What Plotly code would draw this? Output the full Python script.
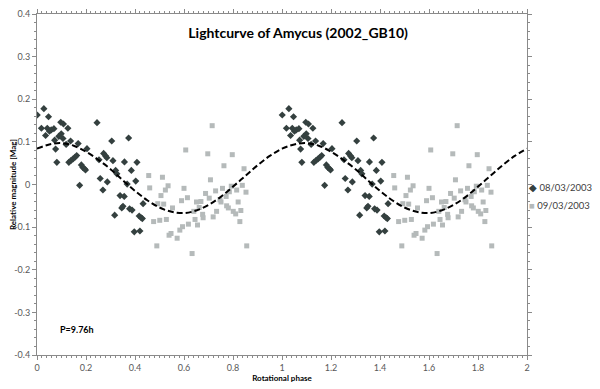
import plotly.graph_objects as go

# 08/03/2003 session (one rotation, phase 0..1)
phase_0803 = [0.001, 0.028, 0.047, 0.018, 0.035, 0.042, 0.051, 0.058, 0.069, 0.072,
              0.076, 0.081, 0.097, 0.108, 0.089, 0.099, 0.106, 0.119, 0.126, 0.137,
              0.168, 0.130, 0.138, 0.147, 0.155, 0.162, 0.174, 0.181, 0.187, 0.194,
              0.198, 0.204, 0.245, 0.253, 0.258, 0.269, 0.272, 0.280, 0.285, 0.287,
              0.305, 0.310, 0.321, 0.326, 0.357, 0.374, 0.385, 0.368, 0.339, 0.356,
              0.403, 0.408, 0.433, 0.317, 0.346, 0.351, 0.378, 0.388, 0.417, 0.425,
              0.430, 0.397, 0.420]
mag_0803 = [0.163, 0.178, 0.159, 0.132, 0.115, 0.132, 0.125, 0.128, 0.131, 0.104,
            0.083, 0.052, 0.146, 0.142, 0.113, 0.119, 0.108, 0.094, 0.132, 0.102,
            0.096, 0.052, 0.056, 0.060, 0.064, 0.068, -0.002, 0.046, 0.040, 0.037,
            0.034, 0.084, 0.145, 0.058, 0.014, -0.013, 0.073, 0.067, 0.063, 0.006,
            0.102, 0.056, 0.033, 0.025, 0.053, 0.109, 0.033, 0.001, -0.026, -0.028,
            0.008, 0.052, -0.045, -0.072, -0.055, -0.051, -0.057, -0.060, -0.074, -0.078,
            -0.080, -0.111, -0.109]

# 09/03/2003 session
phase_0903 = [0.456, 0.460, 0.512, 0.506, 0.524, 0.535, 0.607, 0.600, 0.590, 0.614,
              0.715, 0.697, 0.797, 0.763, 0.708, 0.845, 0.651, 0.669, 0.688, 0.703,
              0.729, 0.757, 0.772, 0.785, 0.793, 0.815, 0.838, 0.853, 0.751, 0.821,
              0.493, 0.517, 0.476, 0.501, 0.528, 0.553, 0.489, 0.539, 0.547, 0.572,
              0.583, 0.594, 0.618, 0.633, 0.640, 0.645, 0.655, 0.662, 0.676, 0.678,
              0.719, 0.733, 0.747, 0.774, 0.781, 0.801, 0.811, 0.832, 0.828, 0.856]
mag_0903 = [0.021, -0.008, 0.017, -0.026, -0.013, -0.003, 0.081, -0.009, -0.038, -0.031,
            0.138, 0.072, 0.070, 0.044, 0.011, 0.037, -0.041, -0.040, -0.021, -0.032,
            -0.015, -0.009, -0.028, -0.017, -0.004, -0.013, -0.002, -0.018, -0.041, -0.041,
            -0.045, -0.046, -0.087, -0.084, -0.082, -0.055, -0.144, -0.119, -0.115, -0.126,
            -0.107, -0.099, -0.093, -0.162, -0.063, -0.082, -0.095, -0.054, -0.070, -0.078,
            -0.076, -0.063, -0.036, -0.050, -0.055, -0.063, -0.069, -0.061, -0.087, -0.144]

# fitted lightcurve
fit_phase = [0.00, 0.05, 0.10, 0.15, 0.20, 0.25, 0.30, 0.35, 0.40, 0.45,
             0.50, 0.55, 0.60, 0.65, 0.70, 0.75, 0.80, 0.85, 0.90, 0.95,
             1.00, 1.05, 1.10, 1.15, 1.20, 1.25, 1.30, 1.35, 1.40, 1.45,
             1.50, 1.55, 1.60, 1.65, 1.70, 1.75, 1.80, 1.85, 1.90, 1.95, 2.00]
fit_mag = [0.084, 0.094, 0.097, 0.091, 0.077, 0.058, 0.036, 0.010, -0.015, -0.037,
           -0.054, -0.064, -0.067, -0.061, -0.048, -0.029, -0.005, 0.020, 0.045, 0.067,
           0.084, 0.094, 0.097, 0.091, 0.077, 0.058, 0.036, 0.010, -0.015, -0.037,
           -0.054, -0.064, -0.067, -0.061, -0.048, -0.029, -0.005, 0.020, 0.045, 0.067,
           0.084]

x_ticks = [0, 0.2, 0.4, 0.6, 0.8, 1, 1.2, 1.4, 1.6, 1.8, 2]
x_labels = ["0", "0.2", "0.4", "0.6", "0.8", "1", "1.2", "1.4", "1.6", "1.8", "2"]
y_ticks = [-0.4, -0.3, -0.2, -0.1, 0, 0.1, 0.2, 0.3, 0.4]
y_labels = ["-0.4", "-0.3", "-0.2", "-0.1", "0", "0.1", "0.2", "0.3", "0.4"]

DARK = "#34403f"
LIGHT = "#b5baba"
AXIS = "#8a8a8a"
FONT = "Lato"

fig = go.Figure()

# plotted over two rotations
fig.add_trace(go.Scatter(
    x=phase_0803 + [p + 1 for p in phase_0803], y=mag_0803 + mag_0803,
    mode="markers", name="08/03/2003",
    marker=dict(symbol="diamond", size=5.5, color=DARK),
))
fig.add_trace(go.Scatter(
    x=phase_0903 + [p + 1 for p in phase_0903], y=mag_0903 + mag_0903,
    mode="markers", name="09/03/2003",
    marker=dict(symbol="square", size=5, color=LIGHT),
))
fig.add_trace(go.Scatter(
    x=fit_phase, y=fit_mag, mode="lines", line_shape="spline",
    line=dict(color="black", width=2, dash="6px,3px"), showlegend=False,
))

axis_common = dict(
    showgrid=False, zeroline=False, showline=True, linecolor=AXIS, linewidth=1,
    mirror="allticks", ticks="outside", ticklen=4, tickcolor=AXIS, automargin=False,
    ticklabeloverflow="allow",
    tickfont=dict(family=FONT, size=9, color="#595959"),
)

# page body adds an 8px offset, so the figure is a little smaller than the window
fig.update_layout(
    width=592, height=381,
    margin=dict(l=29, r=73, t=6, b=34),
    paper_bgcolor="white", plot_bgcolor="white",
    showlegend=False,
    title=dict(text="<b>Lightcurve of Amycus (2002_GB10)</b>",
               x=0.49, xref="container", xanchor="center",
               y=0.934, yref="container", yanchor="middle",
               font=dict(family=FONT, size=14, color="black")),
    xaxis=dict(axis_common, range=[0, 2], tickvals=x_ticks, ticktext=x_labels,
               minor=dict(dtick=0.02, ticks="outside", ticklen=2, tickcolor=AXIS),
               title=dict(text="<b>Rotational phase</b>", standoff=3,
                          font=dict(family=FONT, size=8, color="black"))),
    yaxis=dict(axis_common, range=[-0.4, 0.4], tickvals=y_ticks, ticktext=y_labels,
               minor=dict(dtick=0.02, ticks="outside", ticklen=2, tickcolor=AXIS),
               title=dict(text="<b>Relative magnitude [Mag]</b>", standoff=4,
                          font=dict(family=FONT, size=8, color="black"))),
)

fig.add_annotation(x=0.084, y=-0.34, xref="x", yref="y", xanchor="left",
                   text="<b>P=9.76h</b>", showarrow=False,
                   font=dict(family=FONT, size=9, color="black"))

# legend drawn as text next to the plot
fig.add_annotation(x=1.0, y=0.49, xref="paper", yref="paper", xanchor="left",
                   text="<span style='color:%s'>◆</span> 08/03/2003" % DARK,
                   showarrow=False, font=dict(family=FONT, size=9.5, color="#404040"))
fig.add_annotation(x=1.0, y=0.437, xref="paper", yref="paper", xanchor="left",
                   text="<span style='color:%s'>■</span> 09/03/2003" % LIGHT,
                   showarrow=False, font=dict(family=FONT, size=9.5, color="#404040"))

fig.write_html("out.html")
